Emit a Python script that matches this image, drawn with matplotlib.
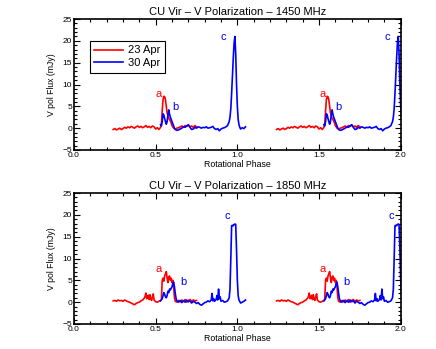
import numpy as np
import matplotlib
matplotlib.use("Agg")
import matplotlib.pyplot as plt
from matplotlib.ticker import MultipleLocator, FormatStrFormatter

plt.rcParams['font.family'] = ['Liberation Sans', 'DejaVu Sans']

# ---------------- data: 1450 MHz ----------------
phase_apr23_1450 = [0.24, 0.25, 0.26, 0.27, 0.28, 0.29, 0.30, 0.31, 0.32, 0.33,
                    0.34, 0.35, 0.36, 0.37, 0.38, 0.39, 0.40, 0.41, 0.42, 0.43,
                    0.44, 0.45, 0.46, 0.47, 0.48, 0.49, 0.50, 0.51, 0.52, 0.53,
                    0.535, 0.54, 0.545, 0.55, 0.555, 0.56, 0.565, 0.57, 0.575, 0.58,
                    0.585, 0.59, 0.595, 0.60, 0.605, 0.61, 0.62, 0.63, 0.64, 0.65,
                    0.66, 0.67, 0.68, 0.69, 0.70, 0.71, 0.72, 0.73, 0.74, 0.75]
flux_apr23_1450 = [-0.3, -0.1, -0.4, -0.2, 0.0, -0.3, -0.1, 0.2, 0.0, 0.3,
                   0.1, 0.4, 0.2, 0.0, 0.3, 0.5, 0.2, 0.4, 0.1, 0.3,
                   0.6, 0.2, 0.4, 0.1, 0.5, 0.3, -0.2, 0.1, -0.3, 0.2,
                   1.0, 4.0, 6.5, 7.3, 7.2, 6.5, 5.0, 3.5, 2.8, 2.2,
                   2.0, 1.6, 1.2, 0.6, 0.3, 0.0, -0.2, 0.0, 0.1, 0.3,
                   0.5, 0.2, 0.6, 0.4, 0.7, 0.3, 0.5, 0.2, 0.6, 0.3]

phase_apr30_1450 = [0.53, 0.535, 0.54, 0.545, 0.55, 0.555, 0.56, 0.565, 0.57, 0.575,
                    0.58, 0.585, 0.59, 0.595, 0.60, 0.605, 0.61, 0.615, 0.62,
                    0.63, 0.64, 0.65, 0.66, 0.67, 0.68, 0.69, 0.70, 0.71, 0.72,
                    0.73, 0.74, 0.75, 0.76, 0.77, 0.78, 0.79, 0.80, 0.81, 0.82,
                    0.83, 0.84, 0.85, 0.86, 0.87, 0.88, 0.89, 0.90, 0.91, 0.92,
                    0.93, 0.94, 0.95,
                    0.955, 0.96, 0.965, 0.97, 0.975, 0.98, 0.985, 0.99, 0.995, 1.00,
                    1.005, 1.01, 1.015, 1.02, 1.03, 1.04, 1.05]
flux_apr30_1450 = [0.8, 0.5, 1.5, 3.3, 3.0, 2.2, 1.5, 0.9, 1.5, 3.0,
                   4.2, 3.2, 2.5, 2.0, 1.5, 1.0, 0.5, 0.0, -0.3,
                   -0.5, -0.4, -0.2, 0.0, 0.3, 0.2, 0.5, 0.8, 0.2, -0.3,
                   -0.2, 0.2, 0.0, 0.3, 0.2, 0.0, 0.2, 0.1, 0.3, 0.0,
                   0.1, 0.2, 0.4, -0.1, -0.3, -0.1, -0.6, -0.2, 0.0, 0.1,
                   0.3, 0.6, 1.5,
                   2.5, 4.5, 8.0, 12.0, 16.0, 19.5, 21.0, 17.0, 10.0, 5.0,
                   2.0, 0.8, 0.2, -0.2, 0.1, -0.1, 0.3]

# ---------------- data: 1850 MHz ----------------
phase_apr23_1850 = [0.24, 0.25, 0.26, 0.27, 0.28, 0.29, 0.30, 0.31, 0.32, 0.33,
                    0.34, 0.35, 0.36, 0.37, 0.38, 0.39, 0.40, 0.41, 0.42, 0.43,
                    0.435, 0.44, 0.445, 0.45, 0.455, 0.46, 0.465, 0.47, 0.475, 0.48,
                    0.485, 0.49, 0.50, 0.51, 0.52, 0.53,
                    0.535, 0.54, 0.545, 0.55, 0.555, 0.56, 0.565, 0.57, 0.575, 0.58,
                    0.585, 0.59, 0.595, 0.60, 0.605, 0.61, 0.615,
                    0.62, 0.63, 0.64, 0.65, 0.66, 0.67, 0.68, 0.69, 0.70, 0.71,
                    0.72, 0.73, 0.74, 0.75]
flux_apr23_1850 = [0.3, 0.4, 0.2, 0.5, 0.3, 0.4, 0.2, 0.5, 0.3, 0.1,
                   0.0, -0.2, -0.4, -0.6, -0.3, -0.1, 0.0, 0.3, 0.5, 0.9,
                   1.3, 2.1, 0.8, 1.0, 1.6, 0.6, 1.7, 0.7, 0.4, 1.2,
                   1.9, 0.5, 0.1, 0.0, 0.2, 0.4,
                   0.6, 5.0, 5.5, 4.8, 6.0, 6.5, 7.0, 5.5, 4.5, 5.8,
                   6.0, 5.0, 5.5, 4.5, 5.0, 3.5, 1.0,
                   0.2, 0.0, 0.4, 0.1, 0.5, 0.2, 0.6, 0.0, 0.4, 0.6,
                   0.2, 0.5, 0.3, 0.4]

phase_apr30_1850 = [0.53, 0.54, 0.545, 0.55, 0.555, 0.56, 0.565, 0.57, 0.575, 0.58,
                    0.585, 0.59, 0.595, 0.60, 0.605, 0.61, 0.615, 0.62, 0.625, 0.63,
                    0.64, 0.65, 0.66, 0.67, 0.68, 0.69, 0.70, 0.71, 0.72, 0.73,
                    0.74, 0.75, 0.76, 0.77, 0.78, 0.79, 0.80, 0.81, 0.82, 0.83,
                    0.84, 0.845, 0.85, 0.855, 0.86, 0.87, 0.875, 0.88, 0.885, 0.89,
                    0.895, 0.90, 0.91, 0.92, 0.93, 0.94, 0.95, 0.955, 0.96, 0.965,
                    0.97, 0.975, 0.98, 0.985, 0.99, 0.995, 1.00, 1.005, 1.01, 1.02,
                    1.03, 1.04, 1.05]
flux_apr30_1850 = [0.3, 0.8, 1.5, 2.2, 1.8, 1.2, 1.0, 1.5, 2.5, 2.2,
                   3.0, 2.8, 3.2, 3.5, 4.3, 4.6, 3.5, 2.0, 0.8, 0.3,
                   0.0, 0.4, -0.1, 0.3, 0.0, 0.5, 0.1, 0.3, -0.2, 0.2,
                   0.0, -0.3, -0.1, -0.5, -0.7, -0.4, -0.1, 0.0, 0.3, 0.1,
                   0.5, 2.0, 0.3, 0.8, 0.2, 0.6, 1.5, 0.5, 3.0, 0.8,
                   1.2, 0.2, 0.4, 0.0, 0.1, 0.3, 1.0, 3.0, 10.0, 17.5,
                   17.6, 17.5, 17.8, 17.9, 17.8, 12.0, 5.0, 1.5, 0.5, -0.2,
                   0.0, 0.2, 0.5]

series_labels = ["23 Apr", "30 Apr"]
series_colors = ["red", "blue"]
titles = ["CU Vir – V Polarization – 1450 MHz", "CU Vir – V Polarization – 1850 MHz"]

# annotation (letter, phase, flux, colour) for each panel
labels_1450 = [("a", 0.52, 7.8, "red"), ("b", 0.62, 4.8, "blue"), ("c", 0.915, 20.8, "blue")]
labels_1850 = [("a", 0.52, 7.5, "red"), ("b", 0.67, 4.6, "blue"), ("c", 0.94, 19.7, "blue")]

panels = [
    (phase_apr23_1450, flux_apr23_1450, phase_apr30_1450, flux_apr30_1450, labels_1450, titles[0]),
    (phase_apr23_1850, flux_apr23_1850, phase_apr30_1850, flux_apr30_1850, labels_1850, titles[1]),
]

fig = plt.figure(figsize=(4.36, 3.49), dpi=100)
W, H = 436.0, 349.0
ax_rects = [
    [74 / W, 1 - 150 / H, 326.7 / W, 131 / H],
    [74 / W, 1 - 324 / H, 326.7 / W, 131 / H],
]

for i, (p23, f23, p30, f30, labs, title) in enumerate(panels):
    ax = fig.add_axes(ax_rects[i])
    for shift in (0.0, 1.0):
        ax.plot(np.array(p23) + shift, f23, color=series_colors[0], lw=1.2,
                label=series_labels[0] if shift == 0 else None)
        ax.plot(np.array(p30) + shift, f30, color=series_colors[1], lw=1.2,
                label=series_labels[1] if shift == 0 else None)
        for (txt, x, y, c) in labs:
            ax.text(x + shift, y, txt, color=c, fontsize=8, ha='center', va='center')
    ax.set_xlim(0.0, 2.0)
    ax.set_ylim(-5, 25)
    ax.xaxis.set_major_locator(MultipleLocator(0.5))
    ax.xaxis.set_minor_locator(MultipleLocator(0.1))
    ax.yaxis.set_major_locator(MultipleLocator(5))
    ax.yaxis.set_minor_locator(MultipleLocator(1))
    ax.xaxis.set_major_formatter(FormatStrFormatter('%.1f'))
    ax.tick_params(which='both', direction='in', top=True, right=True,
                   labelsize=6, pad=1.5, width=0.8)
    ax.tick_params(which='major', length=4)
    ax.tick_params(which='minor', length=2)
    for s in ax.spines.values():
        s.set_linewidth(1.2)
    ax.set_title(title, fontsize=8, y=1.03, pad=0)
    ax.set_xlabel("Rotational Phase", fontsize=6.3)
    ax.xaxis.set_label_coords(0.5, -0.075)
    ax.set_ylabel("V pol Flux (mJy)", fontsize=6.2)
    ax.yaxis.set_label_coords(-0.055, 0.5)
    if i == 0:
        leg = ax.legend(loc='upper left', bbox_to_anchor=(0.049, 0.832),
                        borderaxespad=0, fontsize=8, fancybox=False,
                        handlelength=2.6, handletextpad=0.4, borderpad=0.4,
                        labelspacing=0.25, framealpha=1)
        leg.get_frame().set_edgecolor('black')
        leg.get_frame().set_linewidth(0.8)

fig.savefig("out.png", dpi=100)
